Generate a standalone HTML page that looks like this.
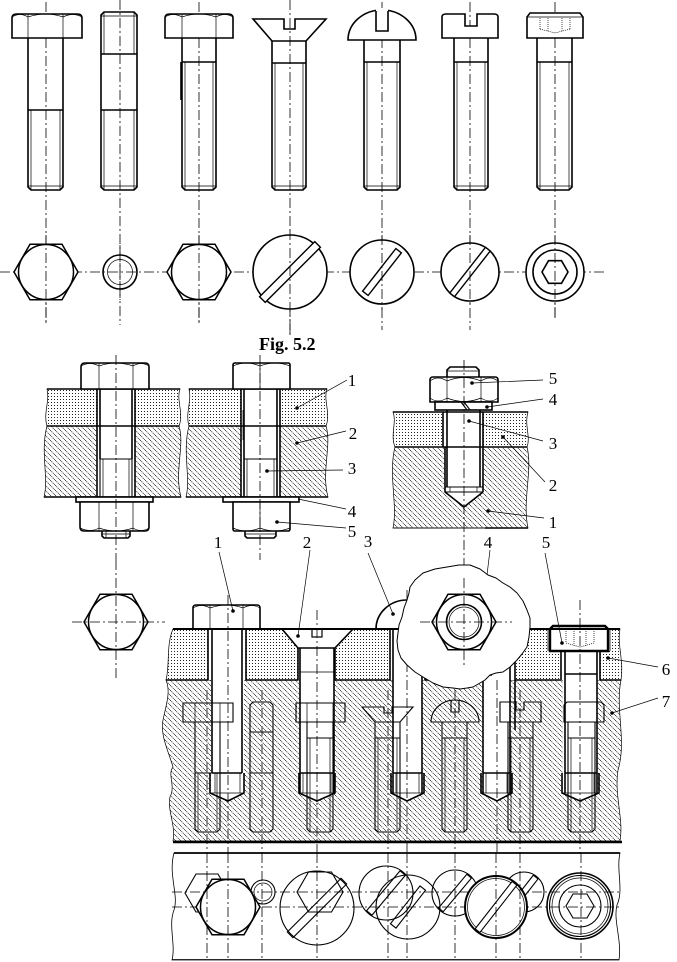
<!DOCTYPE html>
<html><head><meta charset="utf-8">
<style>
html,body{margin:0;padding:0;background:#fff;}
svg{display:block;}
text{font-family:"Liberation Serif",serif;fill:#000;}
.k{stroke:#000;stroke-width:1.6;fill:none;}
.kw{stroke:#000;stroke-width:1.6;fill:#fff;}
.m{stroke:#000;stroke-width:1.1;fill:none;}
.t{stroke:#000;stroke-width:0.7;fill:none;}
.c{stroke:#000;stroke-width:0.8;fill:none;stroke-dasharray:10 3 2 3;}
.d{stroke:#000;stroke-width:0.7;fill:none;stroke-dasharray:1 1;}
.lab{font-size:17px;}
</style></head><body>
<svg width="677" height="962" viewBox="0 0 677 962" xmlns="http://www.w3.org/2000/svg">
<defs>
<pattern id="dots" width="3" height="3" patternUnits="userSpaceOnUse"><rect x="0" y="0" width="1" height="1" fill="#222"/></pattern>
<pattern id="hatch" width="5" height="5" patternUnits="userSpaceOnUse"><path d="M0,0L5,5M-1,4L1,6M4,-1L6,1" stroke="#000" stroke-width="0.7" stroke-dasharray="1.2,0.8"/></pattern>
<g id="hexv"><polygon points="32,0 16,27.7 -16,27.7 -32,0 -16,-27.7 16,-27.7" fill="#fff" stroke="#000" stroke-width="1.5"/><circle r="27.5" fill="none" stroke="#000" stroke-width="1.5"/></g>
</defs>

<!-- ================= TOP ROW: side views ================= -->
<path class="c" d="M46,2V325M120,0V325M199,2V325M290,0V335M382,2V330M470,2V330M555,2V320"/>
<path class="c" d="M0,272H605"/>

<!-- bolt 1 -->
<path class="kw" d="M12,38V18Q12,14 17,14H77Q82,14 82,18V38Z"/>
<path class="t" d="M28,14V38M63,14V38M12,17Q20,12 28,17M28,17Q46,11 63,17M63,17Q73,12 82,17"/>
<path class="k" d="M28,38V187L31,190H60L63,187V38M28,110H63"/>
<path class="t" d="M31,110V190M60,110V190M28,186H63"/>
<!-- bolt 2 stud -->
<path class="k" d="M104,12H134L137,15V187L134,190H104L101,187V15ZM101,54H137M101,110H137"/>
<path class="t" d="M104,12V54M134,12V54M104,110V190M134,110V190M101,16H137M101,186H137"/>
<!-- bolt 3 -->
<path class="kw" d="M165,38V18Q165,14 170,14H228Q233,14 233,18V38Z"/>
<path class="t" d="M182,14V38M216,14V38M165,17Q173,12 182,17M182,17Q199,11 216,17M216,17Q225,12 233,17"/>
<path class="k" d="M182,38V187L185,190H213L216,187V38M182,62H216M181,62V100"/>
<path class="t" d="M185,62V190M213,62V190M182,186H216"/>
<!-- bolt 4 countersunk -->
<path class="k" d="M253,19H284V29H295V19H326L306,41H272Z"/>
<path class="k" d="M272,41V187L275,190H303L306,187V41M272,63H306"/>
<path class="t" d="M275,63V190M303,63V190M272,186H306"/>
<!-- bolt 5 round head -->
<path class="kw" d="M348,40A34,30 0 0 1 416,40Z"/>
<rect x="376" y="8" width="12" height="23" fill="#fff"/>
<path class="k" d="M376,11V31H388V11"/>
<path class="k" d="M364,40V187L367,190H397L400,187V40M364,62H400"/>
<path class="t" d="M367,62V190M397,62V190M364,186H400"/>
<!-- bolt 6 cheese head -->
<path class="kw" d="M442,38V17Q442,14 446,14H465V26H477V14H494Q498,14 498,17V38Z"/>
<path class="k" d="M454,38V187L457,190H485L488,187V38M454,62H488"/>
<path class="t" d="M457,62V190M485,62V190M454,186H488"/>
<!-- bolt 7 socket head -->
<path class="kw" d="M527,38V17L530,13H580L583,17V38Z"/>
<path class="t" d="M527,17H583"/>
<path class="d" d="M540,18V29M548,18V31M562,18V31M570,18V29M540,29L555,33L570,29"/>
<path class="k" d="M537,38V187L540,190H569L572,187V38M537,62H572"/>
<path class="t" d="M540,62V190M569,62V190M537,186H572"/>

<!-- ================= TOP ROW: end views ================= -->
<use href="#hexv" x="46" y="272"/>
<circle cx="120" cy="272" r="17" class="k"/>
<circle cx="120" cy="272" r="12.5" class="t"/>
<use href="#hexv" x="199" y="272"/>
<g transform="translate(290,272)"><circle r="37" class="kw"/><g transform="rotate(-45)"><rect x="-39" y="-4" width="78" height="8" fill="#fff" stroke="#000" stroke-width="1.4"/></g></g>
<g transform="translate(382,272)"><circle r="32" class="kw"/><g transform="rotate(-52)"><rect x="-27" y="-3.5" width="54" height="7" fill="#fff" stroke="#000" stroke-width="1.4"/></g></g>
<g transform="translate(470,272)"><circle r="29" class="kw"/><g transform="rotate(-52)"><rect x="-29" y="-3" width="58" height="6" fill="#fff" stroke="#000" stroke-width="1.4"/></g></g>
<g transform="translate(555,272)"><circle r="29" class="kw"/><circle r="22" class="k"/><polygon points="13,0 6.5,11.3 -6.5,11.3 -13,0 -6.5,-11.3 6.5,-11.3" class="k"/></g>
<path class="c" d="M46,235V325M120,245V300M199,235V325M290,230V335M382,235V310M470,235V305M555,235V320"/>

<text x="259" y="350" font-size="18" font-weight="bold">Fig. 5.2</text>

<!-- ================= MIDDLE: assembly A ================= -->
<path class="t" style="fill:url(#dots)" d="M47,389H180C176,400 184,413 179,426H47C43,413 50,402 47,389Z"/>
<path class="t" style="fill:url(#hatch)" d="M47,426H179C185,445 174,472 181,497H44C49,478 40,452 47,426Z"/>
<rect x="97" y="389" width="38" height="108" fill="#fff"/>
<path class="k" d="M47,389H180M47,426H179M44,497H181M97,389V497M135,389V497"/>
<path class="k" d="M100,389V459M132,389V459"/>
<path class="m" d="M100,459H132M100,459V497M132,459V497"/>
<path class="t" d="M103,459V497M129,459V497"/>
<path class="kw" d="M81,389V367Q81,363 85,363H145Q149,363 149,367V389Z"/>
<path class="t" d="M99,363V389M133,363V389M81,366Q90,361 99,366M99,366Q116,360 133,366M133,366Q141,361 149,366"/>
<rect x="76" y="497" width="77" height="5" class="kw"/>
<path class="kw" d="M80,502V527Q80,531 84,531H145Q149,531 149,527V502Z"/>
<path class="t" d="M99,502V531M133,502V531M80,528Q90,533 99,528M99,528Q116,534 133,528M133,528Q141,533 149,528"/>
<path class="k" d="M102,531V536L104,538H128L130,536V531"/>
<path class="t" d="M102,534H130M106,531V538M126,531V538"/>
<path class="c" d="M116,355V560"/>

<!-- ================= MIDDLE: assembly B ================= -->
<path class="t" style="fill:url(#dots)" d="M189,389H327C323,400 331,413 326,426H189C185,413 192,402 189,389Z"/>
<path class="t" style="fill:url(#hatch)" d="M189,426H326C332,445 321,472 328,497H186C191,478 182,452 189,426Z"/>
<rect x="241" y="389" width="39" height="108" fill="#fff"/>
<path class="k" d="M189,389H327M189,426H326M186,497H328M241,389V497M280,389V497"/>
<path class="k" d="M244,389V497M277,389V497"/>
<path class="m" d="M244,459H277"/>
<path class="t" d="M247,459V497M274,459V497M243,410V440"/>
<path class="kw" d="M233,389V365Q233,363 235,363H288Q290,363 290,365V389Z"/>
<path class="t" d="M260,363V389M233,366Q246,360 260,366M260,366Q275,360 290,366"/>
<rect x="223" y="497" width="76" height="5" class="kw"/>
<path class="kw" d="M233,502V529Q233,531 235,531H288Q290,531 290,529V502Z"/>
<path class="t" d="M260,502V531M233,528Q246,534 260,528M260,528Q275,534 290,528"/>
<path class="k" d="M245,531V536L247,538H274L276,536V531"/>
<path class="t" d="M245,534H276"/>
<path class="c" d="M260,355V560"/>
<path class="t" d="M297,408L347,380M297,443L346,431M267,471L343,470M298,499L346,509M277,522L346,528"/>
<circle cx="297" cy="408" r="1.8"/><circle cx="297" cy="443" r="1.8"/><circle cx="267" cy="471" r="1.8"/><circle cx="277" cy="522" r="1.8"/>
<text class="lab" x="352" y="386" text-anchor="middle">1</text>
<text class="lab" x="353" y="439" text-anchor="middle">2</text>
<text class="lab" x="352" y="474" text-anchor="middle">3</text>
<text class="lab" x="352" y="517" text-anchor="middle">4</text>
<text class="lab" x="352" y="537" text-anchor="middle">5</text>

<!-- ================= MIDDLE: assembly C ================= -->
<path class="t" style="fill:url(#dots)" d="M393,412H528C524,425 531,437 527,447H395C390,435 397,422 393,412Z"/>
<path class="t" style="fill:url(#hatch)" d="M395,447H527C533,470 522,500 528,528H393C398,505 388,475 395,447Z"/>
<path fill="#fff" d="M443,412H483V492L464,507L445,492V447H443Z"/>
<path class="k" d="M393,412H528M395,447H527M485,528H528M443,412V447M483,412V492M445,447V492L464,507L483,492"/>
<path class="t" d="M393,528H485"/>
<path class="k" d="M447,377V487M480,377V487"/>
<path class="m" d="M445,487H483M445,492H483"/>
<path class="t" d="M450,487V492M477,487V492"/>
<path class="kw" d="M447,377V370L450,367H476L479,370V377"/>
<path class="t" d="M447,371H479"/>
<path class="kw" d="M430,402V380Q430,377 433,377H495Q498,377 498,380V402Z"/>
<path class="t" d="M447,377V402M481,377V402M430,381Q438,375 447,381M447,381Q464,374 481,381M481,381Q490,375 498,381M430,398Q438,404 447,398M447,398Q464,405 481,398M481,398Q490,404 498,398"/>
<rect x="435" y="402" width="57" height="8" class="kw"/>
<path class="m" d="M461,402L467,410M464,402L470,410"/>
<path class="c" d="M464,360V660"/>
<path class="t" d="M472,383L543,380M487,407L543,399M469,421L543,441M503,437L545,482M488,511L544,518"/>
<circle cx="472" cy="383" r="1.8"/><circle cx="487" cy="407" r="1.8"/><circle cx="469" cy="421" r="1.8"/><circle cx="503" cy="437" r="1.8"/><circle cx="488" cy="511" r="1.8"/>
<text class="lab" x="553" y="384" text-anchor="middle">5</text>
<text class="lab" x="553" y="405" text-anchor="middle">4</text>
<text class="lab" x="553" y="449" text-anchor="middle">3</text>
<text class="lab" x="553" y="491" text-anchor="middle">2</text>
<text class="lab" x="553" y="528" text-anchor="middle">1</text>

<!-- hex view left -->
<use href="#hexv" x="116" y="622"/>
<path class="c" d="M72,622H165M116,560V678"/>

<!-- ================= BIG ASSEMBLY ================= -->
<path class="t" style="fill:url(#dots)" d="M173,629H620C617,645 624,660 621,680H166C170,665 166,645 173,629Z"/>
<path class="t" style="fill:url(#hatch)" d="M166,680H621C615,710 627,740 618,770C614,795 624,820 620,841H173C176,825 167,810 170,797C176,785 167,775 173,767C168,750 160,735 163,720C166,705 171,692 166,680Z"/>

<rect x="208" y="629" width="38" height="51" fill="#fff"/>
<path fill="#fff" d="M211,680H244V793L228,801L211,793Z"/>
<path fill="#fff" d="M282,629H353L335,648V680H334V793L317,801L300,793V680H298V648Z"/>
<rect x="390" y="629" width="35" height="51" fill="#fff"/>
<path fill="#fff" d="M393,680H422V793L407,801L393,793Z"/>
<rect x="480" y="629" width="35" height="51" fill="#fff"/>
<path fill="#fff" d="M483,680H510V793L497,801L483,793Z"/>
<rect x="548" y="629" width="62" height="22" fill="#fff"/>
<rect x="560" y="651" width="40" height="29" fill="#fff"/>
<path fill="#fff" d="M563,680H597V793L580,801L563,793Z"/>

<g class="m">
<path d="M183,703H233V722H183ZM195,722V829L198,832H217L220,829V722M195,773H220"/>
<path class="t" d="M195,703V722M220,703V722M198,773V832M217,773V832"/>
<path d="M250,705L253,702H270L273,705V829L270,832H253L250,829ZM250,732H273M250,773H273"/>
<path d="M296,703H345V722H296ZM307,722V829L310,832H330L333,829V722M307,738H333"/>
<path class="t" d="M307,703V722M333,703V722M310,738V832M330,738V832"/>
<path d="M362,707H384V713H392V707H413L400,722H375ZM375,722V829L378,832H397L400,829V722M375,738H400"/>
<path class="t" d="M378,738V832M397,738V832"/>
<path d="M431,722A24,22 0 0 1 479,722ZM442,722V829L445,832H464L467,829V722M442,738H467"/>
<path d="M451,700V712H459V700"/>
<path class="t" d="M445,738V832M464,738V832"/>
<path d="M500,702H516V710H524V702H541V722H500ZM508,722V829L511,832H530L533,829V722M508,738H533"/>
<path class="t" d="M511,738V832M530,738V832"/>
<path d="M564,722V705L567,702H601L604,705V722ZM568,722V829L571,832H592L595,829V722M568,738H595"/>
<path class="t" d="M571,738V832M592,738V832"/>
</g>

<!-- fg screw 1 -->
<path class="k" d="M208,629V680M246,629V680M212,629V773M242,629V773M212,773H242"/>
<path class="k" d="M210,773V793L228,801L244,793V773"/>
<path class="t" d="M215,773V793M240,773V793M210,793H244"/>
<path class="kw" d="M193,629V608Q193,605 196,605H257Q260,605 260,608V629Z"/>
<path class="t" d="M210,605V629M243,605V629M193,608Q201,603 210,608M210,608Q227,602 243,608M243,608Q252,603 260,608"/>
<!-- fg screw 2 -->
<path class="k" d="M282,629L298,648V680M353,629L335,648V680M298,648H335M300,648V793M334,648V793M300,773H334"/>
<path class="k" d="M299,773V793L317,801L335,793V773"/>
<path class="t" d="M303,773V793M331,773V793M299,793H335M300,672H334"/>
<rect x="312" y="629" width="10" height="8" class="kw" style="stroke-width:1.2"/>
<!-- fg screw 3 -->
<path class="kw" d="M376,629A31,29 0 0 1 438,629Z"/>
<path class="k" d="M390,629V680M425,629V680M393,629V793M422,629V793M393,773H422"/>
<path class="k" d="M391,773V793L407,801L424,793V773"/>
<path class="t" d="M396,773V793M419,773V793M391,793H424"/>
<!-- fg screw 4 -->
<path class="k" d="M480,629V680M515,629V730M483,629V793M510,629V793M483,773H510M480,675H492"/>
<path class="k" d="M481,773V793L497,801L512,793V773"/>
<path class="t" d="M486,773V793M507,773V793M481,793H512"/>
<!-- fg screw 5 -->
<path class="k" d="M561,651V680M600,651V680M565,651V793M597,651V793M565,674H597M565,773H597"/>
<path class="k" d="M562,773V793L580,801L599,793V773"/>
<path class="t" d="M568,773V793M594,773V793M562,793H599"/>
<path class="kw" style="stroke-width:2.4" d="M550,651V629L553,626H605L608,629V651Z"/>
<path class="d" d="M566,631V643M574,631V646M586,631V646M594,631V643M566,643L580,647L594,643"/>
<path class="t" d="M548,629V651M610,629V651"/>

<path class="k" style="stroke-width:2" d="M173,629H620"/>
<path class="k" d="M166,680H208M246,680H298M335,680H390M425,680H480M515,680H560M600,680H621"/>
<path class="k" style="stroke-width:2.6" d="M173,842H622"/>

<path class="c" d="M228,595V958M317,610V958M407,590V958M497,680V958M580,600V958M207,690V958M262,690V958M388,690V958M455,690V958M520,690V958"/>

<!-- bubble -->
<polyline fill="#fff" stroke="#000" stroke-width="1" stroke-linejoin="round" points="410,587 415,580 423,573 435,569 447,567 459,565 470,565 480,569 488,575 496,578 503,583 510,587 517,593 523,601 527,610 530,618 530,627 529,637 527,647 522,654 517,660 510,667 503,672 496,673 490,675 485,680 480,683 473,687 467,688 460,689 453,688 443,687 433,683 428,680 423,677 415,672 407,665 401,658 398,650 397,641 398,633 399,625 402,617 404,608 407,600 409,593 410,587"/>
<use href="#hexv" x="464" y="622"/>
<circle cx="464" cy="622" r="17.5" class="k"/>
<circle cx="464" cy="622" r="15" class="t"/>
<path class="c" d="M420,622H512M464,578V668"/>

<path class="t" d="M219,552L233,611M310,550L298,636M368,553L393,614M490,550L487,575M545,553L562,643M608,658L658,667M612,713L658,698"/>
<circle cx="233" cy="611" r="1.8"/><circle cx="298" cy="636" r="1.8"/><circle cx="393" cy="614" r="1.8"/><circle cx="562" cy="643" r="1.8"/><circle cx="608" cy="658" r="1.8"/><circle cx="612" cy="713" r="1.8"/>
<text class="lab" x="218" y="548" text-anchor="middle">1</text>
<text class="lab" x="307" y="548" text-anchor="middle">2</text>
<text class="lab" x="368" y="547" text-anchor="middle">3</text>
<text class="lab" x="488" y="548" text-anchor="middle">4</text>
<text class="lab" x="546" y="548" text-anchor="middle">5</text>
<text class="lab" x="666" y="675" text-anchor="middle">6</text>
<text class="lab" x="666" y="707" text-anchor="middle">7</text>

<!-- ================= BOTTOM BAND ================= -->
<path fill="#fff" stroke="#000" stroke-width="0.8" d="M174,853H620C616,870 624,890 617,905C613,920 622,940 619,960H172C176,945 168,925 174,910C179,895 168,875 174,853Z"/>
<path class="k" style="stroke-width:1.8" d="M174,853H620"/>
<path class="t" d="M172,959.5H619"/>
<path class="c" d="M172,892H620M172,907H620"/>

<g class="m">
<polygon points="229,893 218,912 196,912 185,893 196,874 218,874"/>
<circle cx="263" cy="892" r="12"/>
<circle cx="263" cy="892" r="9" class="t"/>
</g>
<use href="#hexv" x="228" y="907"/>
<g class="m">
<circle cx="317" cy="908" r="37"/>
<polygon points="343,892 331.5,912 308.5,912 297,892 308.5,872 331.5,872"/>
<circle cx="386" cy="893" r="27"/>
<circle cx="408" cy="907" r="32"/>
<circle cx="455" cy="893" r="23"/>
<circle cx="524" cy="892" r="20"/>
</g>
<g transform="translate(317,908) rotate(-45)"><rect x="-38" y="-4" width="76" height="8" class="m"/></g>
<g transform="translate(386,893) rotate(-50)"><rect x="-26" y="-3.5" width="52" height="7" class="m"/></g>
<g transform="translate(408,907) rotate(-52)"><rect x="-24" y="-3.5" width="48" height="7" class="m"/></g>
<g transform="translate(455,893) rotate(-50)"><rect x="-22" y="-3" width="44" height="6" class="m"/></g>
<g transform="translate(524,892) rotate(-52)"><rect x="-19" y="-3" width="38" height="6" class="m"/></g>
<circle cx="496" cy="907" r="31" class="kw" style="stroke-width:2"/>
<circle cx="496" cy="907" r="28.5" class="t"/>
<g transform="translate(496,907) rotate(-52)"><rect x="-30" y="-3" width="60" height="6" class="m" style="fill:#fff"/></g>
<g transform="translate(580,906)">
<circle r="33" class="k"/><circle r="30.5" class="m"/><circle r="28" class="t"/><circle r="21" class="m"/>
<polygon points="14,0 7,12 -7,12 -14,0 -7,-12 7,-12" class="m"/>
</g>
<path class="c" d="M207,853V958M228,853V958M262,853V958M317,853V958M388,853V958M407,853V958M455,853V958M496,853V958M520,853V958M581,853V958"/>
</svg>
</body></html>
